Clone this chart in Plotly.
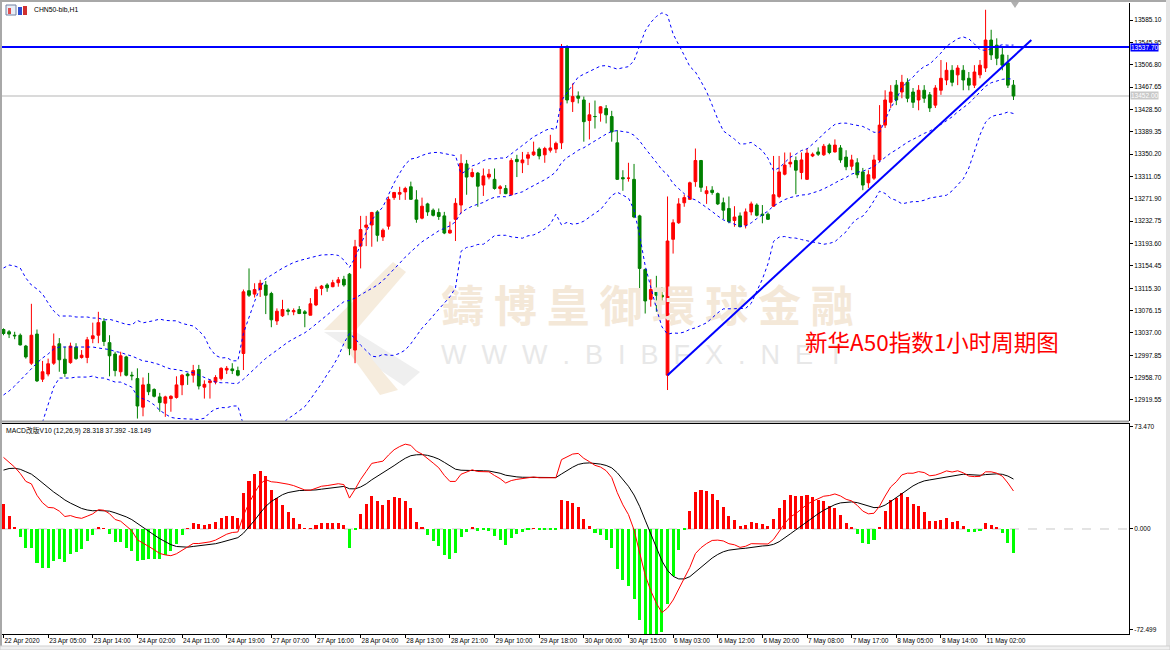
import numpy as np
import plotly.graph_objects as go

# ---------------- data ----------------
bar_open = [13043,13039,13033,13033,13014,12984,13035,12956,12965,12984,13018,12991,12985,13012,12994,12994,13027,13033,13057,13020,
            13000,12969,12995,12963,12957,12907,12947,12938,12925,12914,12922,12924,12946,12965,12963,12973,12942,12950,12951,12957,
            12972,12974,12971,13001,13111,13105,13113,13121,13106,13058,13067,13077,13074,13078,13074,13068,13086,13115,13121,13118,
            13125,13131,13140,13007,13189,13222,13226,13249,13205,13224,13274,13280,13284,13293,13270,13238,13263,13252,13248,13242,
            13212,13236,13261,13333,13311,13317,13296,13310,13306,13290,13290,13279,13341,13335,13343,13349,13359,13349,13357,13359,
            13370,13537,13442,13452,13445,13409,13416,13422,13430,13416,13370,13309,13308,13306,13242,13148,13096,13112,13103,12963,
            13201,13230,13265,13271,13302,13339,13281,13287,13281,13265,13255,13234,13242,13226,13249,13261,13245,13245,13259,13276,
            13315,13333,13339,13318,13306,13347,13354,13349,13366,13354,13361,13345,13329,13335,13319,13300,13308,13340,13401,13441,
            13471,13459,13476,13459,13445,13462,13454,13436,13462,13480,13497,13489,13497,13483,13471,13489,13501,13550,13541,13524,
            13510,13471]
bar_high = [13045,13042,13039,13036,13016,13088,13043,12988,12992,13036,13028,13013,13020,13019,13007,13030,13055,13074,13063,13033,
            13004,13004,12997,12969,12975,12959,12967,12940,12932,12927,12928,12961,12965,12967,12981,12981,12954,12956,12963,12977,
            12979,12984,12978,13113,13150,13124,13130,13128,13109,13080,13095,13080,13080,13084,13077,13098,13118,13121,13124,13130,
            13135,13137,13142,13200,13242,13242,13249,13252,13220,13276,13284,13293,13293,13302,13287,13274,13265,13255,13255,13249,
            13232,13273,13350,13340,13325,13319,13325,13324,13325,13296,13296,13343,13349,13354,13354,13372,13362,13363,13384,13372,
            13543,13541,13474,13460,13451,13440,13444,13434,13436,13426,13392,13322,13335,13333,13244,13150,13131,13137,13117,13276,
            13236,13273,13279,13302,13360,13340,13294,13294,13283,13274,13276,13259,13248,13255,13267,13264,13261,13248,13347,13347,
            13353,13353,13346,13353,13360,13353,13362,13368,13369,13376,13366,13357,13349,13343,13326,13322,13349,13436,13462,13471,
            13480,13489,13483,13466,13471,13471,13459,13471,13515,13511,13506,13506,13506,13494,13506,13515,13603,13568,13553,13536,
            13524,13480]
bar_low = [13033,13028,13026,13015,12992,12981,12951,12951,12961,12981,12969,12960,12983,12990,12992,12984,13019,13019,13014,12961,
           12961,12961,12961,12954,12887,12891,12928,12924,12899,12890,12899,12922,12928,12946,12950,12938,12922,12922,12947,12954,
           12965,12965,12961,12972,13100,13099,13100,13070,13047,13051,13065,13068,13068,13070,13047,13068,13084,13103,13109,13117,
           13118,13118,12998,12984,13150,13189,13188,13197,13198,13218,13270,13270,13270,13270,13230,13236,13242,13241,13235,13210,
           13211,13198,13246,13279,13309,13258,13277,13306,13288,13280,13280,13278,13310,13317,13331,13347,13341,13335,13353,13352,
           13359,13439,13424,13439,13372,13376,13395,13407,13404,13372,13305,13286,13302,13238,13112,13071,13083,13074,13092,12937,
           13176,13228,13258,13270,13293,13284,13263,13279,13261,13236,13229,13223,13222,13220,13243,13241,13229,13235,13258,13273,
           13313,13327,13280,13306,13305,13345,13347,13347,13350,13353,13335,13322,13322,13308,13287,13291,13305,13336,13396,13431,
           13436,13448,13441,13431,13427,13440,13424,13431,13454,13471,13469,13471,13462,13462,13466,13483,13494,13515,13506,13497,
           13466,13445]
bar_close = [13036,13035,13032,13016,12995,13033,12953,12969,12983,13014,12990,12966,13014,12992,12998,13025,13032,13055,13022,12997,
             12971,12997,12963,12962,12909,12946,12934,12926,12915,12925,12926,12946,12963,12962,12971,12944,12947,12953,12959,12975,
             12975,12971,12963,13109,13103,13113,13124,13103,13060,13075,13078,13075,13076,13071,13071,13088,13113,13119,13116,13125,
             13130,13121,13010,13188,13218,13226,13248,13208,13217,13271,13283,13283,13290,13271,13236,13259,13249,13243,13241,13212,
             13217,13264,13334,13310,13318,13294,13312,13315,13290,13293,13281,13339,13337,13340,13349,13354,13347,13360,13361,13369,
             13537,13445,13451,13448,13407,13419,13416,13433,13419,13389,13306,13307,13308,13240,13150,13093,13113,13103,13100,13198,
             13230,13263,13274,13300,13339,13292,13286,13283,13263,13252,13232,13240,13223,13249,13263,13243,13243,13236,13279,13319,
             13331,13336,13322,13340,13352,13350,13350,13364,13353,13366,13340,13328,13340,13314,13296,13314,13340,13401,13445,13459,
             13445,13476,13448,13441,13462,13448,13431,13466,13483,13497,13476,13501,13480,13471,13494,13506,13550,13524,13518,13506,
             13471,13452]

# Bollinger (20, 2) values read for the first bars (history before the window is not visible)
bb_upper_head = [13150.7,13156.0,13154.2,13150.7,13133.2,13120.9,13113.9,13105.2,13089.4,13075.4,
                 13066.6,13066.6,13066.6,13064.9,13064.9,13064.9,13063.1,13063.1,13059.6]
bb_mid_head = [12928.3,12935.3,12944.0,12954.5,12965.0,12973.8,12984.3,12993.1,13000.1,13008.8,
               13012.3,13012.3,13012.3,13012.3,13012.3,13012.3,13012.3,13010.6,13008.8]

# MACD (12,26,9) starting state read from the left edge of the indicator window
ema_fast_seed = 13030.0
ema_slow_seed = 12975.0
signal_seed = 40.0

tick_labels = ["22 Apr 2020", "23 Apr 05:00", "23 Apr 14:00", "24 Apr 02:00", "24 Apr 11:00", "24 Apr 19:00",
               "27 Apr 07:00", "27 Apr 16:00", "28 Apr 04:00", "28 Apr 13:00", "28 Apr 21:00", "29 Apr 10:00",
               "29 Apr 18:00", "30 Apr 06:00", "30 Apr 15:00", "6 May 03:00", "6 May 12:00", "6 May 20:00",
               "7 May 08:00", "7 May 17:00", "8 May 05:00", "8 May 14:00", "11 May 02:00"]
price_ticks = [12919.55, 12958.70, 12997.85, 13037.00, 13076.15, 13115.30, 13154.45, 13193.60, 13232.75,
               13271.90, 13311.05, 13350.20, 13389.35, 13428.50, 13467.65, 13506.80, 13545.95, 13585.10]
macd_ticks = [73.470, 0.000, -72.499]
resistance_price = 13537.70
bid_price = 13452.00
trend_points = [(119, 12963.0), (184.2, 13550.0)]

# ---------------- indicators ----------------
close = np.array(bar_close, dtype=float)
n = len(close)
idx = np.arange(n)
period = 20
head = len(bb_upper_head)
bb_mid = np.empty(n)
bb_up = np.empty(n)
bb_mid[:head] = bb_mid_head
bb_up[:head] = bb_upper_head
for i in range(head, n):
    w = close[i - period + 1:i + 1]
    m = w.mean()
    bb_mid[i] = m
    bb_up[i] = m + 2 * w.std()
bb_lo = 2 * bb_mid - bb_up

a12, a26, a9 = 2 / 13, 2 / 27, 2 / 10
e12, e26, dea = ema_fast_seed, ema_slow_seed, signal_seed
dif_l, dea_l = [], []
for c in close:
    e12 += a12 * (c - e12)
    e26 += a26 * (c - e26)
    d = e12 - e26
    dea += a9 * (d - dea)
    dif_l.append(d)
    dea_l.append(dea)
dif_a = np.array(dif_l)
dea_a = np.array(dea_l)
hist = 2 * (dif_a - dea_a)

# ---------------- layout helpers ----------------
W, H = 1170, 650
def px(x):
    return x / W
def py(y):
    return 1 - y / H

X0 = 3.5
DX = 5.58
x_range = [(2 - X0) / DX, (1129 - X0) / DX]
P_TOP = 13620.13
P_STEP = 1.7515
main_range = [P_TOP - 421 * P_STEP, P_TOP - 3 * P_STEP]
macd_range = [-75.4, 76.1]

FONT = "Liberation Sans"

fig = go.Figure()

# watermark (below candles)
fig.add_trace(go.Scatter(
    x=[((437 + 858) / 2 - X0) / DX], y=[P_TOP - 311 * P_STEP], mode="text",
    text=["鑄 博 皇 御 環 球 金 融"], textposition="middle center",
    textfont=dict(family="Noto Sans CJK TC", size=43, color="#F4E8D8", weight="bold"),
    hoverinfo="skip", xaxis="x", yaxis="y"))
fig.add_trace(go.Scatter(
    x=[((440 + 845) / 2 - X0) / DX], y=[P_TOP - 357 * P_STEP], mode="text",
    text=["W  W  W  .  B  I  B  F  X  .  N  E  T"], textposition="middle center",
    textfont=dict(family=FONT, size=27, color="#E8E8E8"),
    hoverinfo="skip", xaxis="x", yaxis="y"))

# Bollinger bands
for band in (bb_up, bb_mid, bb_lo):
    fig.add_trace(go.Scatter(x=idx, y=band, mode="lines",
                             line=dict(color="#0000FF", width=1, dash="dot"),
                             hoverinfo="skip", xaxis="x", yaxis="y"))

# candles
fig.add_trace(go.Candlestick(
    x=idx, open=bar_open, high=bar_high, low=bar_low, close=bar_close,
    increasing=dict(line=dict(color="#FF0000", width=1), fillcolor="#FF0000"),
    decreasing=dict(line=dict(color="#008000", width=1), fillcolor="#008000"),
    whiskerwidth=0, xaxis="x", yaxis="y"))

# trend line
fig.add_trace(go.Scatter(x=[p[0] for p in trend_points], y=[p[1] for p in trend_points],
                         mode="lines", line=dict(color="#0000FF", width=2),
                         hoverinfo="skip", xaxis="x", yaxis="y"))

# MACD
fig.add_trace(go.Bar(x=idx, y=hist, width=0.55,
                     marker=dict(color=["#FF0000" if v >= 0 else "#00FF00" for v in hist], line=dict(width=0)),
                     xaxis="x2", yaxis="y2"))
fig.add_trace(go.Scatter(x=idx, y=dea_a, mode="lines", line=dict(color="#000000", width=1),
                         xaxis="x2", yaxis="y2"))
fig.add_trace(go.Scatter(x=idx, y=dif_a, mode="lines", line=dict(color="#FF0000", width=1),
                         xaxis="x2", yaxis="y2"))

shapes = []
# logo (faint)
shapes.append(dict(type="path", xref="paper", yref="paper", layer="below",
                   path=f"M {px(393)},{py(262)} L {px(406)},{py(272)} L {px(356)},{py(330)} L {px(324)},{py(330)} Z",
                   fillcolor="#F6ECDD", line=dict(width=0)))
shapes.append(dict(type="path", xref="paper", yref="paper", layer="below",
                   path=f"M {px(324)},{py(332)} L {px(356)},{py(332)} L {px(420)},{py(372)} L {px(404)},{py(386)} Z",
                   fillcolor="#EFEFEF", line=dict(width=0)))
shapes.append(dict(type="path", xref="paper", yref="paper", layer="below",
                   path=f"M {px(340)},{py(340)} L {px(360)},{py(345)} L {px(398)},{py(390)} L {px(380)},{py(395)} Z",
                   fillcolor="#F6ECDD", line=dict(width=0)))
# resistance & bid lines
shapes.append(dict(type="line", xref="paper", yref="y", x0=px(2), x1=px(1129),
                   y0=bid_price, y1=bid_price, line=dict(color="#DADADA", width=2), layer="below"))
shapes.append(dict(type="line", xref="paper", yref="y", x0=px(2), x1=px(1129),
                   y0=resistance_price, y1=resistance_price, line=dict(color="#0000FF", width=2)))
# zero level in MACD
shapes.append(dict(type="line", xref="paper", yref="y2", x0=px(2), x1=px(1129), y0=0, y1=0,
                   line=dict(color="#C8C8C8", width=1, dash="dash"), layer="below"))
# frames
shapes.append(dict(type="rect", xref="paper", yref="paper", x0=0, x1=px(2), y0=0, y1=1,
                   fillcolor="#A8A8A8", line=dict(width=0)))
shapes.append(dict(type="line", xref="paper", yref="paper", x0=0, x1=1, y0=py(1), y1=py(1),
                   line=dict(color="#A8A8A8", width=2)))
shapes.append(dict(type="line", xref="paper", yref="paper", x0=px(2), x1=px(1129), y0=py(421.5), y1=py(421.5),
                   line=dict(color="#A0A0A0", width=2)))
shapes.append(dict(type="line", xref="paper", yref="paper", x0=px(2), x1=px(1129), y0=py(423.5), y1=py(423.5),
                   line=dict(color="#000000", width=1)))
shapes.append(dict(type="rect", xref="paper", yref="paper", x0=px(1166), x1=1, y0=0, y1=1,
                   fillcolor="#E4E4E4", line=dict(width=0)))
shapes.append(dict(type="rect", xref="paper", yref="paper", x0=0, x1=1, y0=0, y1=py(646),
                   fillcolor="#F0F0F0", line=dict(color="#D0D0D0", width=1)))
# title icons
shapes.append(dict(type="rect", xref="paper", yref="paper", x0=px(6), x1=px(16), y0=py(15), y1=py(5),
                   fillcolor="#E8EEF8", line=dict(color="#7080A0", width=1)))
shapes.append(dict(type="rect", xref="paper", yref="paper", x0=px(8), x1=px(11), y0=py(14), y1=py(8),
                   fillcolor="#E05050", line=dict(width=0)))
shapes.append(dict(type="rect", xref="paper", yref="paper", x0=px(18), x1=px(22), y0=py(15), y1=py(7),
                   fillcolor="#3050D0", line=dict(width=0)))
shapes.append(dict(type="rect", xref="paper", yref="paper", x0=px(23), x1=px(27), y0=py(15), y1=py(6),
                   fillcolor="#D03030", line=dict(width=0)))
# shift marker
shapes.append(dict(type="path", xref="paper", yref="paper",
                   path=f"M {px(1011)},{py(2)} L {px(1019)},{py(2)} L {px(1015)},{py(8)} Z",
                   fillcolor="#B0B0B0", line=dict(width=0)))

annotations = [
    dict(text="CHN50-bib,H1", x=px(32), y=py(10), xref="paper", yref="paper", xanchor="left",
         yanchor="middle", showarrow=False, font=dict(family=FONT, size=6.8, color="#000000")),
    dict(text="MACD改版V10 (12,26,9) 28.318 37.392 -18.149", x=px(4), y=py(430), xref="paper", yref="paper",
         xanchor="left", yanchor="middle", showarrow=False,
         font=dict(family="Liberation Sans, Noto Sans CJK SC", size=6.8, color="#000000")),
    dict(text="新华A50指数1小时周期图", x=px(803), y=py(341), xref="paper", yref="paper", xanchor="left",
         yanchor="middle", showarrow=False, font=dict(family="Noto Sans CJK SC", size=22.5, color="#FF0000")),
    dict(text="13537.70", x=px(1130), y=resistance_price, xref="paper", yref="y", xanchor="left",
         yanchor="middle", showarrow=False, bgcolor="#0000FF", borderpad=0,
         font=dict(family=FONT, size=6.5, color="#FFFFFF")),
    dict(text="13452.00", x=px(1130), y=bid_price, xref="paper", yref="y", xanchor="left",
         yanchor="middle", showarrow=False, bgcolor="#C8C8C8", borderpad=0,
         font=dict(family=FONT, size=6.5, color="#FFFFFF")),
]

tick_font = dict(family=FONT, size=6.5, color="#000000")
fig.update_layout(
    width=W, height=H, margin=dict(l=0, r=0, t=0, b=0),
    paper_bgcolor="#FFFFFF", plot_bgcolor="#FFFFFF", showlegend=False,
    xaxis=dict(domain=[px(2), px(1129)], range=x_range, anchor="y", showticklabels=False,
               showgrid=False, zeroline=False, showline=False, ticks="", rangeslider=dict(visible=False),
               fixedrange=True),
    xaxis2=dict(domain=[px(2), px(1129)], range=x_range, anchor="y2", matches="x",
                tickvals=list(range(0, 8 * len(tick_labels), 8)), ticktext=tick_labels,
                ticks="outside", ticklen=3, tickcolor="#000000", ticklabelposition="outside right",
                tickangle=0, automargin=False,
                showline=True, linecolor="#000000", linewidth=1, showgrid=False, zeroline=False,
                tickfont=tick_font, fixedrange=True),
    yaxis=dict(domain=[py(421), py(3)], range=main_range, anchor="x", side="right",
               tickvals=price_ticks, ticktext=[f"{v:.2f}" for v in price_ticks],
               ticks="outside", ticklen=3, tickcolor="#000000", showline=True, linecolor="#000000",
               linewidth=1, showgrid=False, zeroline=False, tickfont=tick_font, fixedrange=True,
               automargin=False),
    yaxis2=dict(domain=[py(634), py(423)], range=macd_range, anchor="x2", side="right",
                tickvals=macd_ticks, ticktext=[f"{v:.3f}" for v in macd_ticks],
                ticks="outside", ticklen=3, tickcolor="#000000", showline=True, linecolor="#000000",
                linewidth=1, showgrid=False, zeroline=False, tickfont=tick_font, fixedrange=True,
                automargin=False),
    shapes=shapes, annotations=annotations, bargap=0,
)

fig.write_html("out.html")
